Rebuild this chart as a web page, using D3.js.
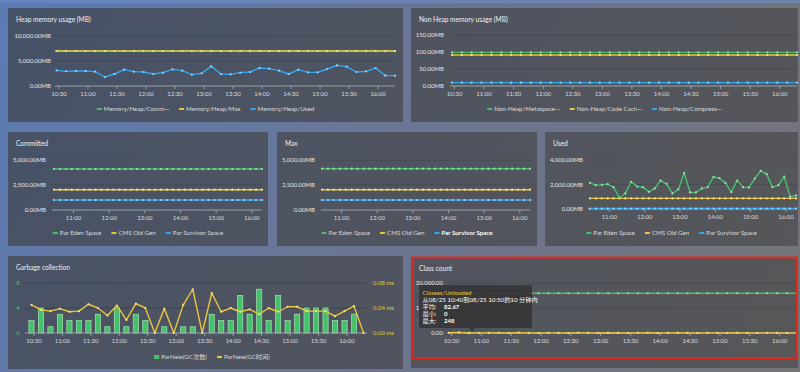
<!DOCTYPE html>
<html>
<head>
<meta charset="utf-8">
<script src="https://cdn.jsdelivr.net/npm/d3@7"></script>
<style>
body { margin: 0; background: #6a7286; }
svg { display: block; font-family: Lato, "Noto Sans CJK SC", sans-serif; }
</style>
</head>
<body>
<svg id="chart" width="800" height="372"></svg>
<script>
// Sample times (10 minute buckets)
var times = ["10:28","10:38","10:48","10:58","11:08","11:18","11:28","11:38","11:48","11:58",
  "12:08","12:18","12:28","12:38","12:48","12:58","13:08","13:18","13:28","13:38",
  "13:48","13:58","14:08","14:18","14:28","14:38","14:48","14:58","15:08","15:18",
  "15:28","15:38","15:48","15:58","16:08","16:18"];

// Heap (MB)
var heapCommitted = [7000,7000,7000,7000,7000,7000,7000,7000,7000,7000,7000,7000,7000,7000,7000,7000,7000,7000,7000,7000,7000,7000,7000,7000,7000,7000,7000,7000,7000,7000,7000,7000,7000,7000,7000,7000];
var heapMax = [7000,7000,7000,7000,7000,7000,7000,7000,7000,7000,7000,7000,7000,7000,7000,7000,7000,7000,7000,7000,7000,7000,7000,7000,7000,7000,7000,7000,7000,7000,7000,7000,7000,7000,7000,7000];
var heapUsed = [3130,2930,3000,3000,2870,1800,2400,3270,2870,2800,2400,2670,3330,3070,2270,2530,3930,2400,2330,2670,2800,3600,3470,3070,2400,3270,2730,2730,3400,4130,3870,2800,2930,3600,2070,2070];

// Non heap (MB)
var metaspace = [99,99,99,99,99,99,99,99,99,99,99,99,99,99,99,99,99,99,99,99,99,99,99,99,99,99,99,99,99,99,99,99,99,99,99,99];
var codeCache = [91,91,91,91,91,91,91,91,91,91,91,91,91,91,91,91,91,91,91,91,91,91,91,91,91,91,91,91,91,91,91,91,91,91,91,91];
var compressed = [10,10,10,10,10,10,10,10,10,10,10,10,10,10,10,10,10,10,10,10,10,10,10,10,10,10,10,10,10,10,10,10,10,10,10,10];

// Memory pools (MB)
var committedEden = [4100,4100,4100,4100,4100,4100,4100,4100,4100,4100,4100,4100,4100,4100,4100,4100,4100,4100,4100,4100,4100,4100,4100,4100,4100,4100,4100,4100,4100,4100,4100,4100,4100,4100,4100,4100];
var committedOld = [2030,2030,2030,2030,2030,2030,2030,2030,2030,2030,2030,2030,2030,2030,2030,2030,2030,2030,2030,2030,2030,2030,2030,2030,2030,2030,2030,2030,2030,2030,2030,2030,2030,2030,2030,2030];
var committedSurvivor = [1000,1000,1000,1000,1000,1000,1000,1000,1000,1000,1000,1000,1000,1000,1000,1000,1000,1000,1000,1000,1000,1000,1000,1000,1000,1000,1000,1000,1000,1000,1000,1000,1000,1000,1000,1000];
var maxEden = [4130,4130,4130,4130,4130,4130,4130,4130,4130,4130,4130,4130,4130,4130,4130,4130,4130,4130,4130,4130,4130,4130,4130,4130,4130,4130,4130,4130,4130,4130,4130,4130,4130,4130,4130,4130];
var maxOld = [2030,2030,2030,2030,2030,2030,2030,2030,2030,2030,2030,2030,2030,2030,2030,2030,2030,2030,2030,2030,2030,2030,2030,2030,2030,2030,2030,2030,2030,2030,2030,2030,2030,2030,2030,2030];
var maxSurvivor = [1000,1000,1000,1000,1000,1000,1000,1000,1000,1000,1000,1000,1000,1000,1000,1000,1000,1000,1000,1000,1000,1000,1000,1000,1000,1000,1000,1000,1000,1000,1000,1000,1000,1000,1000,1000];
var usedEden = [2135,1946,1973,2027,1784,919,1270,2216,1838,1784,1405,1676,2324,2054,1270,1595,2946,1351,1351,1676,1784,2622,2514,2135,1378,2324,1784,1757,2486,3108,2865,1784,1946,2649,1000,1108];
var usedOld = [865,865,865,865,865,865,865,865,865,865,865,865,865,865,865,865,865,865,865,865,865,865,865,865,865,865,865,865,865,865,865,865,865,865,865,865];
var usedSurvivor = [35,35,35,35,35,35,35,35,35,35,35,35,35,35,35,35,35,35,35,35,35,35,35,35,35,35,35,35,35,35,35,35,35,35,35,35];

// Garbage collection
var gcCount = [2,4,1,3,2,2,2,3,1,4,1,3,2,0,1,0,1,1,0,3,2,2,6,3,7,2,6,2,3,4,4,4,2,2,3,0];
var gcTime = [0.045,0.037,0.035,0.039,0.034,0.035,0.046,0.040,0.028,0.044,0.021,0.047,0.040,0,0.039,0,0.045,0.070,0,0.064,0.034,0.040,0.034,0.038,0.030,0.040,0.034,0.042,0.042,0.035,0.035,0.035,0.027,0.035,0.043,0];

// Class count
var classLoaded = [15900,15900,15900,15900,15900,15900,15900,15900,15900,15900,15900,15900,15900,15900,15900,15900,15900,15900,15900,15900,15900,15900,15900,15900,15900,15900,15900,15900,15900,15900,15900,15900,15900,15900,15900,15900];
var classUnloaded = [80,248,0,60,40,90,0,120,30,0,70,50,0,100,40,0,80,20,0,60,110,0,40,90,30,0,70,50,0,80,40,0,60,30,0,50];

var GREEN = "#45c06b", YELLOW = "#e9c43c", BLUE = "#2ea8f2";
var DOT = {};
DOT[GREEN] = "#9be3ab"; DOT[YELLOW] = "#f6e48a"; DOT[BLUE] = "#9ad6ff";

var parseTime = d3.timeParse("%H:%M");
var T = times.map(parseTime);

var svg = d3.select("#chart");
var defs = svg.append("defs");

function grad(id, stops) {
    var lg = defs.append("linearGradient")
        .attr("id", id)
        .attr("gradientUnits", "userSpaceOnUse")
        .attr("x1", 0).attr("y1", 0).attr("x2", 800).attr("y2", 372);
    stops.forEach(function (s) {
        lg.append("stop").attr("offset", s[0]).attr("stop-color", s[1]);
    });
}
grad("bgGrad", [[0, "#5b7cb4"], [0.5, "#6b7592"], [1, "#747476"]]);
grad("panelGrad", [[0, "#465268"], [0.5, "#50545f"], [1, "#575759"]]);

svg.append("rect").attr("width", 800).attr("height", 372).attr("fill", "url(#bgGrad)");
svg.append("rect").attr("width", 800).attr("height", 3).attr("fill", "#6a8cc8").attr("opacity", 0.6);

var mbFmt = function (d) { return d3.format(",.2f")(d) + "MB"; };

function panelBox(p) {
    var g = svg.append("g");
    g.append("rect")
        .attr("x", p.x).attr("y", p.y)
        .attr("width", p.w).attr("height", p.h)
        .attr("fill", "url(#panelGrad)");
    g.append("text")
        .attr("x", p.x + 8).attr("y", p.y + 13.5)
        .attr("fill", "#f0f0f0")
        .style("font-size", "6.6px")
        .text(p.title);
    return g;
}

function xAxis(g, x, yPos, every, x0, x1) {
    var ax = g.append("g")
        .attr("transform", "translate(0," + yPos + ")")
        .call(d3.axisBottom(x)
            .ticks(every)
            .tickFormat(d3.timeFormat("%H:%M"))
            .tickSize(3)
            .tickSizeOuter(0));
    ax.select(".domain").remove();
    ax.selectAll("line").attr("stroke", "#9aa0a8");
    ax.selectAll("text").attr("fill", "#dcdcdc").style("font-size", "6px");
    ax.attr("font-family", null).attr("font-size", null);
    g.append("line")
        .attr("x1", x0).attr("x2", x1)
        .attr("y1", yPos).attr("y2", yPos)
        .attr("stroke", "#9aa0a8").attr("stroke-width", 1);
}

function yLabels(g, y, ticks, fmt, xr, labelX, color, anchor) {
    g.selectAll(null).data(ticks.filter(function (d) { return d > 0; }))
        .enter().append("line")
        .attr("x1", xr[0]).attr("x2", xr[1])
        .attr("y1", function (d) { return y(d); })
        .attr("y2", function (d) { return y(d); })
        .attr("stroke", "rgba(0,0,0,0.13)");
    return g.selectAll(null).data(ticks)
        .enter().append("text")
        .attr("x", labelX)
        .attr("y", function (d) { return y(d); })
        .attr("dy", "0.35em")
        .attr("text-anchor", anchor || "end")
        .attr("fill", color || "#e6e6e6")
        .style("font-size", "6px")
        .text(fmt);
}

function series(g, x, y, values, color) {
    var pts = values.map(function (v, i) { return [T[i], v]; });
    g.append("path")
        .datum(pts)
        .attr("fill", "none")
        .attr("stroke", color)
        .attr("stroke-width", 1.4)
        .attr("stroke-linejoin", "round")
        .attr("d", d3.line().x(function (d) { return x(d[0]); }).y(function (d) { return y(d[1]); }));
    g.selectAll(null).data(pts)
        .enter().append("circle")
        .attr("cx", function (d) { return x(d[0]); })
        .attr("cy", function (d) { return y(d[1]); })
        .attr("r", 1.1)
        .attr("fill", DOT[color]);
}

function legend(g, items, cx, cy) {
    var lg = g.append("g");
    var pos = 0;
    items.forEach(function (it) {
        var item = lg.append("g").attr("transform", "translate(" + pos + ",0)");
        if (it.type === "bar") {
            item.append("rect").attr("x", 0).attr("y", -2).attr("width", 5).attr("height", 4).attr("fill", it.color);
        } else {
            item.append("line").attr("x1", 0).attr("x2", 5).attr("stroke", it.color).attr("stroke-width", 2);
            if (it.type === "dotline") item.append("circle").attr("cx", 2.5).attr("r", 1.3).attr("fill", it.color);
        }
        var t = item.append("text")
            .attr("x", 7).attr("dy", "0.35em")
            .attr("fill", it.bold ? "#ffffff" : "#dcdcdc")
            .style("font-size", "6.2px")
            .style("font-weight", it.bold ? "bold" : null)
            .text(it.name);
        pos += 7 + t.node().getComputedTextLength() + 10;
    });
    lg.attr("transform", "translate(" + (cx - (pos - 10) / 2) + "," + cy + ")");
}

// Line chart panels
var poolLegend = function (bold) {
    return [
        {name: "Par Eden Space", color: GREEN},
        {name: "CMS Old Gen", color: YELLOW},
        {name: "Par Survivor Space", color: BLUE, bold: bold}
    ];
};

var linePanels = [
    {x: 8, y: 8, w: 395, h: 114, title: "Heap memory usage (MB)",
     xr: [56.5, 395], yr: [86, 36], ymax: 10000, yticks: [0, 5000, 10000], fmt: mbFmt, labelX: 51,
     every: d3.timeMinute.every(30), axisX: [55, 395], legendY: 109,
     series: [[heapCommitted, GREEN], [heapMax, YELLOW], [heapUsed, BLUE]],
     legend: [{name: "Memory/Heap/Comm\u00b7\u00b7\u00b7", color: GREEN},
              {name: "Memory/Heap/Max", color: YELLOW},
              {name: "Memory/Heap/Used", color: BLUE}]},
    {x: 411, y: 8, w: 387, h: 114, title: "Non Heap memory usage (MB)",
     xr: [452, 797], yr: [86, 35], ymax: 150, yticks: [0, 50, 100, 150], fmt: mbFmt, labelX: 444,
     every: d3.timeMinute.every(30), axisX: [450, 797], legendY: 109,
     series: [[metaspace, GREEN], [codeCache, YELLOW], [compressed, BLUE]],
     legend: [{name: "Non-Heap/Metaspace\u00b7\u00b7\u00b7", color: GREEN},
              {name: "Non-Heap/Code Cach\u00b7\u00b7\u00b7", color: YELLOW},
              {name: "Non-Heap/Compress\u00b7\u00b7\u00b7", color: BLUE}]},
    {x: 8, y: 132, w: 260, h: 114, title: "Committed",
     xr: [54, 262], yr: [210, 160], ymax: 5000, yticks: [0, 2500, 5000], fmt: mbFmt, labelX: 46,
     every: d3.timeHour.every(1), axisX: [52, 262], legendY: 233,
     series: [[committedEden, GREEN], [committedOld, YELLOW], [committedSurvivor, BLUE]],
     legend: poolLegend(false)},
    {x: 277, y: 132, w: 260, h: 114, title: "Max",
     xr: [322, 530], yr: [210, 160], ymax: 5000, yticks: [0, 2500, 5000], fmt: mbFmt, labelX: 315,
     every: d3.timeHour.every(1), axisX: [321, 530], legendY: 233,
     series: [[maxEden, GREEN], [maxOld, YELLOW], [maxSurvivor, BLUE]],
     legend: poolLegend(true)},
    {x: 545, y: 132, w: 253, h: 114, title: "Used",
     xr: [590, 796], yr: [209, 160], ymax: 4000, yticks: [0, 2000, 4000], fmt: mbFmt, labelX: 583,
     every: d3.timeHour.every(1), axisX: [588, 797], legendY: 233,
     series: [[usedOld, YELLOW], [usedSurvivor, BLUE], [usedEden, GREEN]],
     legend: poolLegend(false)}
];

linePanels.forEach(function (p) {
    var g = panelBox(p);
    var x = d3.scaleTime().domain([T[0], T[T.length - 1]]).range(p.xr);
    var y = d3.scaleLinear().domain([0, p.ymax]).range(p.yr);
    yLabels(g, y, p.yticks, p.fmt, p.axisX, p.labelX);
    xAxis(g, x, p.yr[0], p.every, p.axisX[0], p.axisX[1]);
    p.series.forEach(function (s) { series(g, x, y, s[0], s[1]); });
    legend(g, p.legend, p.x + p.w / 2, p.legendY);
});

// Garbage collection panel
(function () {
    var p = {x: 8, y: 256, w: 395, h: 113, title: "Garbage collection"};
    var g = panelBox(p);
    var x = d3.scaleTime().domain([T[0], T[T.length - 1]]).range([31.5, 363.5]);
    var yc = d3.scaleLinear().domain([0, 8]).range([333, 283]);
    var yt = d3.scaleLinear().domain([0, 0.08]).range([333, 283]);
    g.selectAll(null).data([4, 8]).enter().append("line")
        .attr("x1", 25).attr("x2", 367)
        .attr("y1", function (d) { return yc(d); }).attr("y2", function (d) { return yc(d); })
        .attr("stroke", "rgba(0,0,0,0.2)");
    g.selectAll(null).data([0, 4, 8]).enter().append("text")
        .attr("x", 18).attr("y", function (d) { return yc(d); })
        .attr("dy", "0.35em").attr("text-anchor", "middle")
        .attr("fill", "#4cc470").style("font-size", "6px")
        .text(function (d) { return d; });
    g.selectAll(null).data([0, 0.04, 0.08]).enter().append("text")
        .attr("x", 373).attr("y", function (d) { return yt(d); })
        .attr("dy", "0.35em")
        .attr("fill", YELLOW).style("font-size", "6px")
        .text(function (d) { return d3.format(".2f")(d) + " ms"; });
    g.selectAll(null).data(gcCount.map(function (v, i) { return [T[i], v]; }))
        .enter().append("rect")
        .attr("x", function (d) { return x(d[0]) - 2.6; })
        .attr("width", 5.2)
        .attr("y", function (d) { return yc(d[1]); })
        .attr("height", function (d) { return yc(0) - yc(d[1]); })
        .attr("fill", "#47c06c")
        .attr("stroke", "#a3e4b0")
        .attr("stroke-width", 0.7);
    xAxis(g, x, 333, d3.timeMinute.every(30), 25, 367);
    series(g, x, yt, gcTime, YELLOW);
    legend(g, [{name: "ParNew(GC次数)", color: "#47c06c", type: "bar"},
               {name: "ParNew(GC时间)", color: YELLOW, type: "dotline"}], 212, 357);
})();

// Class count panel
(function () {
    var p = {x: 411, y: 257, w: 387, h: 111, title: "Class count"};
    var g = panelBox(p);
    defs.append("clipPath").attr("id", "classClip")
        .append("rect").attr("x", 411).attr("y", 257).attr("width", 389).attr("height", 100.5);
    // the tooltip hides most of the middle y label
    defs.append("clipPath").attr("id", "tipClip")
        .append("rect").attr("x", 405).attr("y", 257).attr("width", 14).attr("height", 100);
    var c = g.append("g").attr("clip-path", "url(#classClip)");
    var x = d3.scaleTime().domain([T[0], T[T.length - 1]]).range([449, 797]);
    var y = d3.scaleLinear().domain([0, 20000]).range([333, 283]);
    var labels = yLabels(c, y, [0, 10000, 20000], d3.format(",.2f"), [447, 797], 443);
    labels.filter(function (d) { return d === 10000; }).attr("clip-path", "url(#tipClip)");
    xAxis(c, x, 333, d3.timeMinute.every(30), 447, 797);
    series(c, x, y, classLoaded, GREEN);
    series(c, x, y, classUnloaded, YELLOW);
    legend(c, [{name: "Classes/Loaded", color: GREEN},
               {name: "Classes/Unloaded", color: YELLOW}], 605, 358.8);

    // hover tooltip
    var tip = g.append("g").attr("transform", "translate(419,285)");
    tip.append("rect").attr("width", 113).attr("height", 43).attr("rx", 1.5)
        .attr("fill", "#363638").attr("opacity", 0.92);
    tip.append("path").attr("d", "M50,43L53,46.5L56,43Z").attr("fill", "#363638").attr("opacity", 0.92);
    var lines = [
        {t: "Classes/Unloaded", c: YELLOW, y: 7.5},
        {t: "从08/25 10:40到08/25 10:50的10 分钟内", c: "#ffffff", y: 14.5},
        {t: "平均:", v: "82.67", c: "#ffffff", y: 21.5},
        {t: "最小:", v: "0", c: "#ffffff", y: 28.5},
        {t: "最大:", v: "248", c: "#ffffff", y: 35.5}
    ];
    lines.forEach(function (l) {
        tip.append("text").attr("x", 3.5).attr("y", l.y).attr("dy", "0.35em")
            .attr("fill", l.c).style("font-size", "6.2px").text(l.t);
        if (l.v) {
            tip.append("text").attr("x", 25).attr("y", l.y).attr("dy", "0.35em")
                .attr("fill", "#ffffff").style("font-size", "6px").style("font-weight", "bold").text(l.v);
        }
    });

    g.append("rect")
        .attr("x", 413).attr("y", 257.5).attr("width", 384).attr("height", 100.5)
        .attr("fill", "none").attr("stroke", "#e2271c").attr("stroke-width", 2);
})();
</script>
</body>
</html>
